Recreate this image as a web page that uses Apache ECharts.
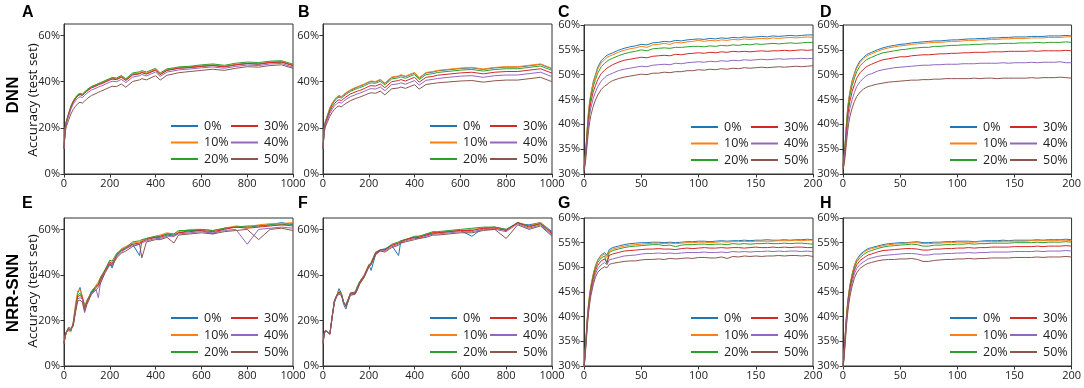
<!DOCTYPE html>
<html>
<head>
<meta charset="utf-8">
<script src="https://cdn.jsdelivr.net/npm/echarts@6/dist/echarts.min.js"></script>
<style>html,body{margin:0;padding:0;background:#fff}#chart{width:1084px;height:388px}</style>
</head>
<body>
<div id="chart"></div>
<script>
// x positions (epochs) for the long runs (A,B,E,F) and the short runs (C,D,G,H)
var xLong = [0,5,10,20,30,40,50,60,70,80,90,100,120,140,150,160,180,200,210,230,250,270,300,330,340,360,400,420,450,480,500,550,600,650,700,750,800,850,900,950,1000];
var xShort = [0,1,2,3,4,5,6,8,10,12,15,18,20,22,25,30,35,40,45,50,55,60,65,70,75,80,85,90,95,100,105,110,115,120,125,130,135,140,145,150,155,160,165,170,175,180,185,190,195,200];
var noiseNames = ['0%','10%','20%','30%','40%','50%'];
var lineColors = ['#1f77b4','#ff7f0e','#2ca02c','#d62728','#9467bd','#8c564b'];
var panelLetters = ['A','B','C','D','E','F','G','H'];

// accuracy (%) per noise level, one row per level 0%..50%
var accA = [
 [11.0,19.5,22.5,25.8,29.0,31.2,32.8,34.0,34.6,34.2,35.2,36.2,37.6,38.4,38.9,39.2,40.1,41.0,41.4,41.2,42.2,40.8,43.2,43.6,44.1,43.5,45.1,43.2,45.0,45.5,45.9,46.2,46.7,47.1,46.5,47.3,47.8,47.6,48.3,48.5,47.0],
 [11.0,19.8,22.9,26.2,29.4,31.6,33.2,34.4,35.0,34.6,35.5,36.5,37.9,38.7,39.2,39.5,40.4,41.2,41.6,41.4,42.4,41.0,43.4,43.8,44.3,43.7,45.3,43.4,45.2,45.7,46.1,46.4,46.9,47.3,46.7,47.5,48.0,47.8,48.5,48.7,47.2],
 [11.0,19.7,22.8,26.1,29.3,31.5,33.1,34.3,34.9,34.5,35.5,36.5,37.9,38.7,39.2,39.6,40.5,41.4,41.8,41.6,42.7,41.3,43.8,44.3,44.8,44.2,45.8,43.8,45.6,46.0,46.4,46.7,47.3,47.7,47.1,48.0,48.5,48.3,48.9,49.1,47.6],
 [11.0,19.3,22.3,25.6,28.8,31.0,32.6,33.8,34.4,34.0,34.9,35.9,37.3,38.1,38.6,38.9,39.8,40.7,41.1,40.9,41.9,40.5,42.9,43.4,43.9,43.3,45.0,43.0,44.9,45.4,45.8,46.1,46.6,47.0,46.4,47.3,47.9,47.6,48.3,48.5,47.0],
 [11.0,19.0,21.8,25.0,28.0,30.2,31.7,32.9,33.5,33.1,34.0,35.0,36.4,37.2,37.7,38.0,38.9,39.8,40.2,40.0,41.0,39.6,42.0,42.6,43.1,42.5,44.2,42.3,44.2,44.7,45.1,45.5,46.0,46.4,45.8,46.6,47.2,47.0,47.7,47.9,46.3],
 [11.0,18.0,20.5,23.3,26.0,27.9,29.3,30.5,31.1,30.7,31.6,32.6,34.0,34.9,35.4,35.8,36.7,37.6,38.0,37.9,39.0,37.6,40.1,40.8,41.3,40.8,42.6,40.7,42.8,43.4,43.9,44.4,44.9,45.4,44.9,45.8,46.5,46.3,47.0,47.3,45.8]
];
var accB = [
 [11.0,19.5,22.5,25.5,28.5,30.5,32.0,33.2,33.8,33.4,34.2,35.0,36.3,37.2,37.6,38.0,38.8,39.8,40.1,39.9,40.8,39.2,41.8,42.3,42.8,42.2,43.8,41.5,43.8,44.2,44.7,45.2,45.7,46.0,45.3,46.0,46.3,46.3,46.9,47.5,45.6],
 [11.0,19.6,22.7,25.7,28.7,30.7,32.2,33.4,34.0,33.6,34.4,35.2,36.5,37.4,37.8,38.2,39.0,40.0,40.3,40.1,41.0,39.4,42.0,42.5,43.0,42.4,44.0,41.7,44.0,44.4,44.9,45.4,45.9,46.2,45.5,46.2,46.5,46.5,47.1,47.7,45.8],
 [11.0,19.3,22.2,25.1,28.0,30.0,31.5,32.7,33.3,32.9,33.7,34.5,35.8,36.7,37.1,37.4,38.2,39.2,39.5,39.3,40.2,38.6,41.2,41.7,42.1,41.5,43.1,40.9,43.1,43.5,44.0,44.5,45.0,45.3,44.6,45.3,45.6,45.6,46.2,46.8,44.9],
 [11.0,19.0,21.7,24.5,27.2,29.1,30.5,31.6,32.2,31.8,32.6,33.4,34.7,35.5,35.9,36.2,37.0,38.0,38.3,38.1,39.0,37.4,40.0,40.5,40.9,40.3,41.9,39.8,41.9,42.3,42.8,43.3,43.8,44.1,43.4,44.1,44.4,44.4,45.0,45.6,43.7],
 [11.0,18.6,21.2,23.8,26.3,28.1,29.5,30.5,31.1,30.7,31.5,32.3,33.5,34.3,34.7,35.0,35.8,36.7,37.0,36.8,37.7,36.1,38.7,39.1,39.5,38.9,40.5,38.5,40.6,41.0,41.4,41.9,42.4,42.6,41.9,42.6,42.9,42.9,43.5,44.1,42.2],
 [11.0,18.0,20.3,22.7,25.0,26.7,28.0,29.0,29.5,29.1,29.9,30.6,31.8,32.6,33.0,33.3,34.1,34.9,35.2,35.0,35.9,34.3,36.9,37.3,37.7,37.1,38.7,36.8,38.8,39.2,39.5,39.9,40.3,40.5,39.8,40.4,40.7,40.7,41.3,41.9,40.0]
];
var accC = [
 [31.0,33.0,36.0,39.5,42.5,44.5,46.0,48.5,50.0,51.5,52.8,53.5,53.9,54.1,54.4,54.9,55.3,55.6,55.8,56.1,56.0,56.4,56.5,56.7,56.6,56.9,56.8,57.0,57.1,57.2,57.1,57.3,57.2,57.4,57.3,57.5,57.4,57.6,57.5,57.6,57.7,57.6,57.8,57.7,57.8,57.9,57.8,57.9,58.0,58.0],
 [31.0,33.2,36.3,39.8,42.8,44.8,46.2,48.3,49.7,51.1,52.4,53.0,53.5,53.7,54.0,54.5,54.9,55.2,55.4,55.7,55.5,56.0,56.1,56.3,56.1,56.5,56.4,56.6,56.7,56.9,56.7,56.9,56.8,57.0,56.9,57.1,57.0,57.2,57.1,57.2,57.3,57.2,57.4,57.3,57.4,57.5,57.4,57.5,57.6,57.5],
 [31.2,33.2,36.0,39.2,42.0,44.0,45.5,47.5,49.0,50.3,51.6,52.3,52.7,53.0,53.3,53.8,54.2,54.5,54.7,55.0,54.8,55.2,55.3,55.4,55.3,55.5,55.5,55.6,55.7,55.7,55.6,55.8,55.7,55.9,55.8,56.0,55.9,56.1,56.0,56.2,56.1,56.2,56.3,56.2,56.3,56.4,56.3,56.4,56.5,56.5],
 [31.0,32.8,35.5,38.5,41.0,43.0,44.5,46.5,47.8,49.0,50.2,50.9,51.3,51.6,52.0,52.5,52.9,53.1,53.3,53.5,53.4,53.7,53.8,53.9,53.8,54.1,54.0,54.2,54.3,54.4,54.3,54.5,54.4,54.6,54.5,54.7,54.6,54.7,54.6,54.7,54.8,54.7,54.8,54.8,54.9,54.8,54.9,55.0,54.9,55.0],
 [30.8,32.5,35.0,37.8,40.2,42.0,43.3,45.2,46.5,47.6,48.7,49.4,49.8,50.0,50.3,50.8,51.1,51.3,51.5,51.7,51.6,51.9,52.0,52.1,52.0,52.3,52.2,52.4,52.5,52.6,52.5,52.7,52.6,52.8,52.7,52.9,52.8,53.0,52.9,53.0,53.1,53.0,53.1,53.2,53.1,53.2,53.2,53.3,53.2,53.3],
 [30.5,31.8,34.0,36.5,38.8,40.5,41.8,43.6,44.9,45.9,47.0,47.7,48.0,48.4,48.8,49.2,49.5,49.7,49.9,50.1,50.0,50.3,50.3,50.5,50.4,50.6,50.6,50.8,50.8,51.0,50.9,51.1,51.0,51.2,51.1,51.3,51.2,51.4,51.3,51.4,51.5,51.4,51.5,51.6,51.5,51.6,51.7,51.6,51.7,51.8]
];
var accD = [
 [31.5,33.5,36.5,40.0,43.0,45.0,46.5,48.8,50.3,51.6,52.8,53.5,53.9,54.2,54.5,55.0,55.4,55.7,55.9,56.1,56.2,56.4,56.5,56.6,56.7,56.8,56.8,56.9,57.0,57.0,57.1,57.2,57.2,57.3,57.3,57.4,57.4,57.5,57.5,57.6,57.6,57.6,57.7,57.7,57.7,57.8,57.8,57.8,57.9,57.8],
 [31.5,33.5,36.6,40.0,43.0,44.9,46.3,48.5,50.0,51.3,52.5,53.2,53.6,53.9,54.2,54.7,55.1,55.4,55.6,55.8,55.9,56.1,56.2,56.3,56.4,56.5,56.5,56.6,56.7,56.7,56.8,56.9,56.9,57.0,57.0,57.1,57.1,57.2,57.2,57.3,57.3,57.3,57.4,57.4,57.4,57.5,57.5,57.5,57.6,57.6],
 [31.8,33.5,36.3,39.5,42.3,44.3,45.7,47.8,49.3,50.6,51.8,52.5,52.9,53.2,53.5,54.0,54.4,54.6,54.8,55.0,55.1,55.3,55.4,55.5,55.5,55.7,55.7,55.8,55.9,55.9,56.0,56.0,56.1,56.1,56.2,56.2,56.2,56.3,56.3,56.3,56.4,56.4,56.4,56.5,56.4,56.5,56.5,56.5,56.6,56.5],
 [31.5,33.0,35.5,38.5,41.2,43.2,44.6,46.6,48.0,49.3,50.4,51.1,51.5,51.8,52.1,52.6,53.0,53.2,53.4,53.6,53.6,53.8,53.9,54.0,54.0,54.1,54.2,54.2,54.3,54.3,54.4,54.4,54.5,54.5,54.5,54.6,54.6,54.6,54.7,54.7,54.7,54.7,54.8,54.7,54.8,54.8,54.8,54.8,54.9,54.8],
 [31.2,32.5,34.8,37.5,40.0,41.8,43.2,45.0,46.4,47.6,48.6,49.3,49.7,50.0,50.2,50.7,51.0,51.2,51.4,51.5,51.6,51.7,51.8,51.9,51.9,52.0,52.0,52.1,52.1,52.1,52.2,52.2,52.2,52.3,52.3,52.3,52.3,52.4,52.3,52.4,52.4,52.4,52.5,52.4,52.5,52.5,52.5,52.6,52.4,52.4],
 [31.0,31.8,33.8,36.2,38.5,40.2,41.5,43.3,44.6,45.6,46.5,47.1,47.4,47.6,47.8,48.1,48.3,48.5,48.6,48.7,48.8,48.9,48.9,49.0,49.0,49.1,49.1,49.2,49.2,49.2,49.2,49.2,49.3,49.2,49.3,49.3,49.2,49.3,49.3,49.3,49.3,49.3,49.4,49.3,49.4,49.4,49.4,49.5,49.4,49.3]
];
var accE = [
 [10,13,15,16.5,15.5,19,26,32,34.5,30,27,28,33,35,35.5,38,42,45,43,49,51,52,53.5,48.5,55,56,56.5,57,58,57.5,58.5,59.5,59.5,58,60.5,61,61,61.5,62,63,62],
 [10,13.5,15,15.5,15,19,27,33,33.5,31,26,29,32,35.5,37,39,42,46,45,48.5,51.5,52.5,54,54.5,55,56,57,57.5,58.5,58,59,60,60,59.5,60.5,61.5,61,62,62.5,62.5,63],
 [10,13,15,16,15.5,18.5,25,31,32,30,25,28.5,32.5,35,36,39,42.5,46.5,46,49.5,51,52,54.5,55,55.5,56,57,57,58,58,59.5,59.5,60,59.5,60.5,61,61.5,61.5,62,62,62.5],
 [10,13,14.5,16,16,18,24.5,30.5,31,30,25,28,32,34.5,35.5,38,42,45.5,45,48.5,50.5,51.5,53.5,54,54.5,55.5,56.5,56.5,57.5,57,58.5,59,59.5,59,60,61,60.5,61,61.5,62,61.5],
 [10,13,14.5,16.5,16,17.5,24,29.5,30,29.5,24.5,27.5,32,33.5,30,37,41.5,45,44.5,48,50,51.5,53,53.5,54,55,56,56,57,57,58,58.5,59,58.5,59.5,60,53.5,60,60.5,61,60.5],
 [10,13,15,17,16.5,17.5,23.5,28.5,29,28,23.5,27,31.5,33.5,34.5,36.5,41,44.5,44,47.5,49.5,50.5,52.5,53.5,47.5,54.5,55.5,55.5,56.5,54,57.5,58,58.5,58,59,59.5,60,55.5,60,60.5,59.5]
];
var accF = [
 [10,14,15.5,15,14,22,29,31,34,32,27,25,32,32.5,35,37,40,44.5,42,49,51,51.5,53,48.5,55,55.5,56.5,57,57.5,58,58.5,59,59.5,57,60.5,61,60,62.5,62,63,59],
 [10,14,15.5,15,14,21.5,28.5,31,33,32,28,26.5,32,32,34.5,37,40,44.5,45,50,51,51,53,54,54.5,55.5,56.5,56.5,58,58.5,58.5,59,59.5,60,60.5,61,59.5,63,61.5,63,58.5],
 [10,14,15.5,15,14,21.5,28.5,31,32.5,32,28,27,32,32,34.5,37,39.5,44,45.5,50,51,51,53.5,54.5,55,55.5,57,57,58,59,59,59.5,60,60.5,61,61,60,63,61.5,62.5,58.5],
 [10,14,15.5,15,14,21.5,28.5,31,32.5,31.5,28,26.5,32,32,34,36.5,39.5,44,45,49.5,51,51,53,54,54.5,55.5,56.5,56.5,57.5,58.5,58.5,59,59.5,59.5,60.5,60.5,59.5,63,61,62.5,58],
 [10,14,15.5,15,14,21.5,28,30.5,32,31.5,28,26.5,31.5,31.5,33.5,36,39,43.5,44.5,49,50.5,50.5,52.5,53.5,54,55,56,56,57,58,58,58.5,59,59,60,60,59,62.5,60.5,62,57.5],
 [10,14,15.5,15,14,21.5,28,30.5,31.5,31,28,26,31,31.5,33.5,36,39,43.5,44.5,49,50.5,50,52,53,54,54.5,55.5,56,56.5,57.5,57.5,58,58.5,58.5,59.5,60,56,62,60,61.5,57]
];
var accG = [
 [29.5,33.0,36.5,40.0,42.5,44.5,46.0,48.5,50.3,51.5,52.5,53.0,52.4,53.6,54.0,54.3,54.6,54.8,54.9,55.0,55.0,55.1,55.1,55.0,55.1,55.0,55.1,55.2,55.2,55.3,55.3,55.2,55.3,55.4,55.3,55.4,55.4,55.5,55.4,55.5,55.5,55.6,55.5,55.5,55.6,55.5,55.6,55.6,55.7,55.6],
 [29.5,33.0,36.7,40.2,42.8,44.8,46.3,48.6,50.3,51.4,52.3,52.7,52.0,53.3,53.7,54.0,54.3,54.5,54.6,54.7,54.8,54.9,54.9,54.8,54.9,54.8,54.9,55.0,55.0,55.1,55.1,55.0,55.1,55.2,55.1,55.2,55.2,55.3,55.2,55.3,55.3,55.3,55.3,55.4,55.4,55.4,55.5,55.4,55.5,55.5],
 [29.5,32.8,36.3,39.8,42.3,44.3,45.9,48.2,49.9,51.0,51.9,52.3,50.7,53.0,53.4,53.7,54.0,54.2,54.3,54.4,54.5,54.6,54.6,54.4,54.5,54.2,54.5,54.6,54.6,54.7,54.7,54.6,54.7,54.7,54.6,54.8,54.7,54.8,54.7,54.8,54.8,54.9,54.8,54.8,54.9,54.8,54.9,54.9,54.8,54.7],
 [29.5,32.5,35.8,39.3,41.8,43.8,45.4,47.6,49.3,50.4,51.3,51.7,51.0,52.4,52.7,53.0,53.3,53.4,53.5,53.6,53.7,53.7,53.8,53.7,53.7,53.6,53.8,53.9,53.8,53.9,54.0,53.9,53.9,54.0,53.9,54.0,54.0,53.9,54.0,54.1,54.0,54.0,54.1,54.0,54.1,54.0,54.1,54.1,54.0,54.0],
 [29.5,32.3,35.5,38.8,41.3,43.3,44.8,47.0,48.7,49.7,50.5,51.0,50.5,51.5,51.7,52.0,52.3,52.4,52.5,52.7,52.8,52.8,52.9,52.8,52.9,52.8,52.9,53.0,53.0,53.0,53.1,53.0,53.0,53.1,53.0,53.2,53.1,53.2,53.1,53.2,53.2,53.3,53.2,53.3,53.2,53.3,53.3,53.2,53.3,53.2],
 [29.5,32.0,35.0,38.3,40.8,42.7,44.2,46.4,48.0,49.0,49.7,50.1,49.9,50.6,50.8,51.0,51.2,51.3,51.3,51.5,51.6,51.6,51.7,51.6,51.8,51.7,51.8,51.9,51.8,52.0,52.0,51.9,51.9,52.1,51.8,52.2,52.1,52.3,52.2,52.3,52.2,52.3,52.3,52.4,52.3,52.4,52.4,52.3,52.4,52.2]
];
var accH = [
 [29.5,33.0,36.5,40.0,42.6,44.6,46.2,48.6,50.4,51.6,52.6,53.2,53.5,53.8,54.0,54.3,54.6,54.8,54.9,55.0,55.0,55.1,55.2,55.0,55.0,55.1,55.1,55.2,55.2,55.3,55.3,55.3,55.2,55.3,55.4,55.4,55.4,55.5,55.4,55.5,55.5,55.5,55.5,55.6,55.5,55.6,55.6,55.6,55.7,55.6],
 [29.5,33.0,36.7,40.2,42.8,44.8,46.4,48.7,50.4,51.5,52.4,53.0,53.3,53.6,53.8,54.1,54.4,54.6,54.7,54.8,54.9,55.0,55.0,54.8,54.8,54.9,54.9,55.0,55.0,55.1,55.1,55.1,55.1,55.2,55.2,55.2,55.2,55.3,55.3,55.3,55.3,55.3,55.4,55.4,55.4,55.4,55.4,55.5,55.5,55.4],
 [29.5,32.8,36.3,39.8,42.4,44.4,46.0,48.3,50.0,51.1,52.0,52.6,52.9,53.2,53.4,53.8,54.1,54.3,54.4,54.5,54.6,54.7,54.6,54.3,54.3,54.5,54.5,54.6,54.6,54.7,54.7,54.8,54.7,54.8,54.8,54.9,54.9,54.9,54.9,55.0,55.0,55.0,55.0,55.1,55.0,55.1,55.1,55.1,55.2,55.1],
 [29.5,32.5,35.8,39.3,41.9,43.9,45.5,47.7,49.4,50.5,51.4,51.9,52.2,52.5,52.7,53.1,53.4,53.5,53.6,53.7,53.8,53.8,53.7,53.5,53.5,53.7,53.7,53.8,53.8,53.9,53.9,54.0,53.9,54.0,54.0,54.1,54.1,54.1,54.1,54.2,54.2,54.2,54.2,54.3,54.2,54.3,54.3,54.3,54.4,54.3],
 [29.5,32.2,35.4,38.8,41.3,43.3,44.9,47.0,48.7,49.8,50.6,51.1,51.4,51.7,51.9,52.2,52.4,52.5,52.6,52.7,52.8,52.8,52.7,52.5,52.5,52.7,52.7,52.8,52.8,52.9,52.9,53.0,52.9,53.0,53.0,53.1,53.1,53.1,53.1,53.2,53.2,53.2,53.2,53.3,53.2,53.3,53.3,53.3,53.4,53.3],
 [29.5,31.8,34.8,38.0,40.5,42.4,44.0,46.2,47.8,48.9,49.8,50.3,50.6,50.8,51.0,51.3,51.5,51.6,51.6,51.7,51.7,51.8,51.6,51.2,51.2,51.4,51.5,51.6,51.6,51.7,51.7,51.8,51.7,51.8,51.8,51.9,51.9,51.9,51.9,52.0,52.0,52.0,52.0,52.1,52.0,52.1,52.1,52.1,52.2,52.1]
];

var panels = [
  {x: xLong,  acc: accA, kind: 'long'},
  {x: xLong,  acc: accB, kind: 'long'},
  {x: xShort, acc: accC, kind: 'short'},
  {x: xShort, acc: accD, kind: 'short'},
  {x: xLong,  acc: accE, kind: 'long'},
  {x: xLong,  acc: accF, kind: 'long'},
  {x: xShort, acc: accG, kind: 'short'},
  {x: xShort, acc: accH, kind: 'short'}
];

// plot boxes in page pixels
var boxes = [
  {left: 64,  top: 24,  width: 229, height: 150},
  {left: 323, top: 24,  width: 229, height: 150},
  {left: 584, top: 25,  width: 229, height: 149},
  {left: 843, top: 25,  width: 229, height: 149},
  {left: 64,  top: 218, width: 229, height: 148},
  {left: 323, top: 218, width: 229, height: 148},
  {left: 584, top: 218, width: 229, height: 148},
  {left: 843, top: 218, width: 229, height: 148}
];

var FONT = 'Open Sans';
var txt = '#222';
var grids = [], xAxes = [], yAxes = [], series = [], legends = [], graphics = [];

for (var i = 0; i < panels.length; i++) {
  var p = panels[i], b = boxes[i];
  grids.push({left: b.left, top: b.top, width: b.width, height: b.height,
    show: true, borderColor: '#333', borderWidth: 1, backgroundColor: 'transparent'});
  var longRun = p.kind == 'long';
  xAxes.push({type: 'value', gridIndex: i, min: 0, max: longRun ? 1000 : 200, interval: longRun ? 200 : 50,
    axisLine: {show: true, onZero: false, lineStyle: {color: '#333'}},
    axisTick: {show: true, length: 3.5, lineStyle: {color: '#333'}},
    axisLabel: {color: txt, fontSize: 11, fontFamily: FONT, margin: 4, formatter: function (v) { return String(v); }},
    splitLine: {show: false}});
  yAxes.push({type: 'value', gridIndex: i, min: longRun ? 0 : 30, max: longRun ? 65 : 60, interval: longRun ? 20 : 5,
    axisLine: {show: true, onZero: false, lineStyle: {color: '#333'}},
    axisTick: {show: true, length: 3.5, lineStyle: {color: '#333'}},
    axisLabel: {color: txt, fontSize: 11, fontFamily: FONT, margin: 4, formatter: '{value}%', showMaxLabel: !longRun},
    splitLine: {show: false}});
  for (var k = 0; k < 6; k++) {
    var pts = [];
    for (var j = 0; j < p.x.length; j++) pts.push([p.x[j], p.acc[k][j]]);
    series.push({type: 'line', name: noiseNames[k], xAxisIndex: i, yAxisIndex: i, data: pts,
      symbol: 'none', silent: true, lineStyle: {width: 1, color: lineColors[k]}, itemStyle: {color: lineColors[k]}});
  }
  // legend: two columns of three, like the matplotlib ncol=2 layout
  var rowTop = b.top + (i < 4 ? 102 : 100) - 7;
  var gap = i < 4 ? 2.5 : 3;
  [[0, 107], [3, 167]].forEach(function (c) {
    legends.push({orient: 'vertical', left: b.left + c[1], top: rowTop, padding: 0,
      icon: 'rect', itemWidth: 27, itemHeight: 2, itemGap: gap, selectedMode: false,
      data: noiseNames.slice(c[0], c[0] + 3),
      textStyle: {color: txt, fontSize: 12.5, fontFamily: FONT, lineHeight: 14, padding: [0, 0, 0, 1]}});
  });
}

// panel letters
var letterPos = [[22, 5], [298, 5], [558, 5], [820, 5], [22, 196], [298, 196], [558, 196], [820, 196]];
for (var m = 0; m < panelLetters.length; m++) {
  graphics.push({type: 'text', left: letterPos[m][0], top: letterPos[m][1],
    style: {text: panelLetters[m], font: 'bold 16px "Liberation Sans", Arial', fill: '#000'}});
}
// row titles
graphics.push({type: 'text', x: 13, y: 95, rotation: Math.PI / 2,
  style: {text: 'DNN', font: 'bold 17px "Liberation Sans", Arial', fill: '#000', textAlign: 'center', textVerticalAlign: 'middle'}});
graphics.push({type: 'text', x: 33, y: 100, rotation: Math.PI / 2,
  style: {text: 'Accuracy (test set)', font: '13.5px "Open Sans"', fill: '#111', textAlign: 'center', textVerticalAlign: 'middle'}});
graphics.push({type: 'text', x: 13, y: 293, rotation: Math.PI / 2,
  style: {text: 'NRR-SNN', font: 'bold 17px "Liberation Sans", Arial', fill: '#000', textAlign: 'center', textVerticalAlign: 'middle'}});
graphics.push({type: 'text', x: 33, y: 291, rotation: Math.PI / 2,
  style: {text: 'Accuracy (test set)', font: '13.5px "Open Sans"', fill: '#111', textAlign: 'center', textVerticalAlign: 'middle'}});

var myChart = echarts.init(document.getElementById('chart'));
var option = {
  animation: false,
  backgroundColor: '#fff',
  grid: grids,
  xAxis: xAxes,
  yAxis: yAxes,
  legend: legends,
  series: series,
  graphic: graphics
};
myChart.setOption(option);
window.addEventListener('resize', function () { myChart.resize(); });
</script>
</body>
</html>
